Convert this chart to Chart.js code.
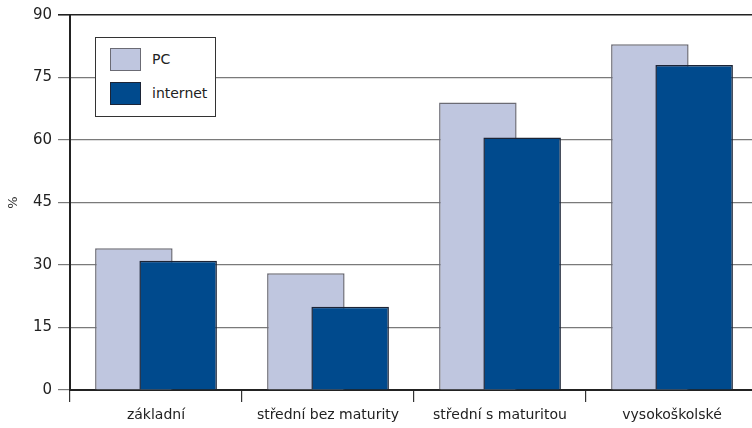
<!DOCTYPE html>
<html>
<head>
<meta charset="utf-8">
<script src="https://cdn.jsdelivr.net/npm/chart.js@4/dist/chart.umd.min.js"></script>
<style>
  html, body { margin: 0; padding: 0; background: #fff; overflow: hidden; }
  #wrap { position: relative; width: 760px; height: 428px; }
  #legend {
    position: absolute; left: 95px; top: 37px; width: 121px; height: 80px;
    box-sizing: border-box; border: 1px solid #333; background: #fff;
    font: 14px "DejaVu Sans", sans-serif; color: #222;
  }
  #legend .item { position: absolute; left: 14px; height: 23px; line-height: 23px; white-space: nowrap; }
  #legend .sw { display: inline-block; width: 31px; height: 23px; box-sizing: border-box; vertical-align: top; margin-right: 11px; }
</style>
</head>
<body>
<div id="wrap">
  <canvas id="chart" width="760" height="428"></canvas>
  <div id="legend"></div>
</div>
<script>
(function () {
  "use strict";

  var categories = ["základní", "střední bez maturity", "střední s maturitou", "vysokoškolské"];
  var pcValues = [34, 28, 69, 83];
  var internetValues = [31, 20, 60.6, 78];
  var seriesNames = ["PC", "internet"];
  var yTicks = [0, 15, 30, 45, 60, 75, 90];

  var pcColor = "#bfc6df";
  var pcBorder = "#6b6b74";
  var netColor = "#004a8d";
  var netBorder = "#1c2436";

  // PC is drawn first, internet over it
  var drawOrder = {
    id: "drawOrder",
    beforeDatasetsDraw: function (chart) {
      chart.getDatasetMeta(0).controller.draw();
      chart.getDatasetMeta(1).controller.draw();
      return false;
    },
  };

  var el = document.getElementById("chart");
  var chart = new Chart(el, {
    type: "bar",
    data: {
      labels: categories,
      datasets: [
        {
          label: seriesNames[0],
          data: pcValues,
          backgroundColor: pcColor,
          borderColor: pcBorder,
          borderWidth: 1.5,
        },
        {
          label: seriesNames[1],
          data: internetValues,
          backgroundColor: netColor,
          borderColor: netBorder,
          borderWidth: 1.5,
        },
      ],
    },
    options: {
      responsive: false,
      animation: false,
      devicePixelRatio: 1,
      categoryPercentage: 0.515,
      barPercentage: 1.75,
      layout: { padding: { top: 13, right: 2, left: 0, bottom: 0 } },
      plugins: {
        legend: { display: false },
        tooltip: { enabled: false },
      },
      scales: {
        x: {
          offset: true,
          border: { color: "#222", width: 2 },
          grid: {
            offset: true,
            drawOnChartArea: false,
            drawTicks: true,
            tickLength: 12,
            tickColor: "#333",
            lineWidth: 1.2,
          },
          ticks: {
            color: "#222",
            padding: 5,
            maxRotation: 0,
            font: { family: "DejaVu Sans", size: 14 },
          },
          afterFit: function (s) { s.height = 38; },
        },
        y: {
          min: 0,
          max: 90,
          border: { color: "#222", width: 2 },
          afterBuildTicks: function (s) {
            s.ticks = yTicks.map(function (v) { return { value: v }; });
          },
          grid: {
            color: function (c) { return c.tick && c.tick.value === 90 ? "#222" : "#7a7a7a"; },
            tickColor: function (c) { return c.tick && c.tick.value === 90 ? "#222" : "#7a7a7a"; },
            lineWidth: function (c) { return c.tick && c.tick.value === 90 ? 1.6 : 1.2; },
            tickLength: 12,
          },
          ticks: {
            color: "#222",
            padding: 6,
            font: { family: "DejaVu Sans", size: 15 },
          },
          title: {
            display: true,
            text: "%",
            color: "#333",
            padding: { top: 6, bottom: 0 },
            font: { family: "DejaVu Sans", size: 13 },
          },
          afterFit: function (s) { s.width = 70; },
        },
      },
    },
    plugins: [drawOrder],
  });

  var legend = document.getElementById("legend");
  chart.data.datasets.forEach(function (ds, i) {
    var item = document.createElement("div");
    item.className = "item";
    item.style.top = (10 + i * 34) + "px";
    var sw = document.createElement("span");
    sw.className = "sw";
    sw.style.background = ds.backgroundColor;
    sw.style.border = "1px solid " + ds.borderColor;
    item.appendChild(sw);
    item.appendChild(document.createTextNode(ds.label));
    legend.appendChild(item);
  });
})();
</script>
</body>
</html>
